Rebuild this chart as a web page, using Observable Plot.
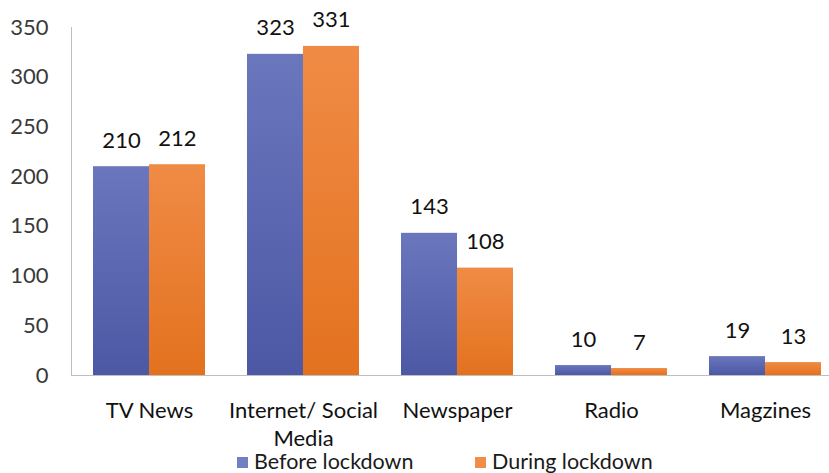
<!DOCTYPE html>
<html><head><meta charset="utf-8">
<script src="https://cdn.jsdelivr.net/npm/d3@7"></script>
<script src="https://cdn.jsdelivr.net/npm/@observablehq/plot@0.6"></script>
<style>
body{margin:0;background:#fff;overflow:hidden;font-family:Lato,"Open Sans",sans-serif;position:relative;height:473px;}
#chart svg{display:block;color:#bfbfbf;}
g[aria-label^="y-axis"] text{fill:#3a3a3a;}
#legend{position:absolute;left:0;top:447px;width:829px;height:28px;font-size:21.5px;line-height:28px;color:#1a1a1a;}
#legend span.item{position:absolute;top:0;white-space:nowrap;}
#legend i{display:inline-block;width:11px;height:11px;margin-right:6px;vertical-align:middle;position:relative;top:-1px;}
</style></head><body>
<div id="chart"></div>
<div id="legend"></div>
<script>
const categories = ["TV News", "Internet/ Social\nMedia", "Newspaper", "Radio", "Magzines"];
const seriesNames = ["Before lockdown", "During lockdown"];
const beforeLockdown = [210, 323, 143, 10, 19];
const duringLockdown = [212, 331, 108, 7, 13];
const yTicks = [0, 50, 100, 150, 200, 250, 300, 350];

const rows = categories.map((c, i) => ({category: c, before: beforeLockdown[i], during: duringLockdown[i]}));

const W = 829, H = 473;
const xRange = [71, 843];
const pIn = 0.275, pOut = 0.1375;
const step = (xRange[1] - xRange[0]) / (categories.length - pIn + 2 * pOut);
const bw = step * (1 - pIn);
const half = bw / 2;

const fontLabel = "Lato, 'Open Sans', sans-serif";

const plot = Plot.plot({
  width: W,
  height: H,
  marginLeft: 71,
  marginRight: 0,
  marginTop: 27,
  marginBottom: 98,
  style: {fontFamily: fontLabel, fontSize: "22px", background: "transparent"},
  x: {domain: categories, range: xRange, paddingInner: pIn, paddingOuter: pOut, axis: null},
  y: {domain: [0, 350], ticks: yTicks, tickSize: 0, tickPadding: 23, line: true, label: null, tickFormat: d => String(d)},
  marks: [
    Plot.barY(rows, {x: "category", y: "before", fill: "url(#gradBefore)", insetRight: half, insetLeft: 0}),
    Plot.barY(rows, {x: "category", y: "during", fill: "url(#gradDuring)", insetLeft: half, insetRight: 0}),
    Plot.ruleY([0], {stroke: "#bfbfbf", strokeWidth: 1.2}),
    Plot.text(rows, {x: "category", y: "before", text: d => String(d.before), dx: -half / 2, dy: -26, fill: "#111", fontSize: 22}),
    Plot.text(rows, {x: "category", y: "during", text: d => String(d.during), dx: half / 2, dy: -26, fill: "#111", fontSize: 22}),
    Plot.text(rows, {x: "category", y: () => 0, text: "category", dy: 23, lineAnchor: "top", lineHeight: 1.25, fill: "#111", fontSize: 22})
  ]
});

// vertical gradients for the bars (lighter at top, like the reference)
const ns = "http://www.w3.org/2000/svg";
const defs = document.createElementNS(ns, "defs");
[["gradBefore", "#6a77bd", "#4c58a4"], ["gradDuring", "#f08b45", "#e3721f"]].forEach(([id, top, bottom]) => {
  const g = document.createElementNS(ns, "linearGradient");
  g.setAttribute("id", id);
  g.setAttribute("x1", "0"); g.setAttribute("y1", "0");
  g.setAttribute("x2", "0"); g.setAttribute("y2", "1");
  [["0", top], ["1", bottom]].forEach(([o, c]) => {
    const s = document.createElementNS(ns, "stop");
    s.setAttribute("offset", o);
    s.setAttribute("stop-color", c);
    g.appendChild(s);
  });
  defs.appendChild(g);
});
plot.insertBefore(defs, plot.firstChild);
document.getElementById("chart").appendChild(plot);

const legend = document.getElementById("legend");
const lx = [237, 475];
const swatch = ["#7080c3", "#f08d4a"];
seriesNames.forEach((name, i) => {
  const s = document.createElement("span");
  s.className = "item";
  s.style.left = lx[i] + "px";
  const sw = document.createElement("i");
  sw.style.background = swatch[i];
  s.appendChild(sw);
  s.appendChild(document.createTextNode(name));
  legend.appendChild(s);
});
</script>
</body></html>
